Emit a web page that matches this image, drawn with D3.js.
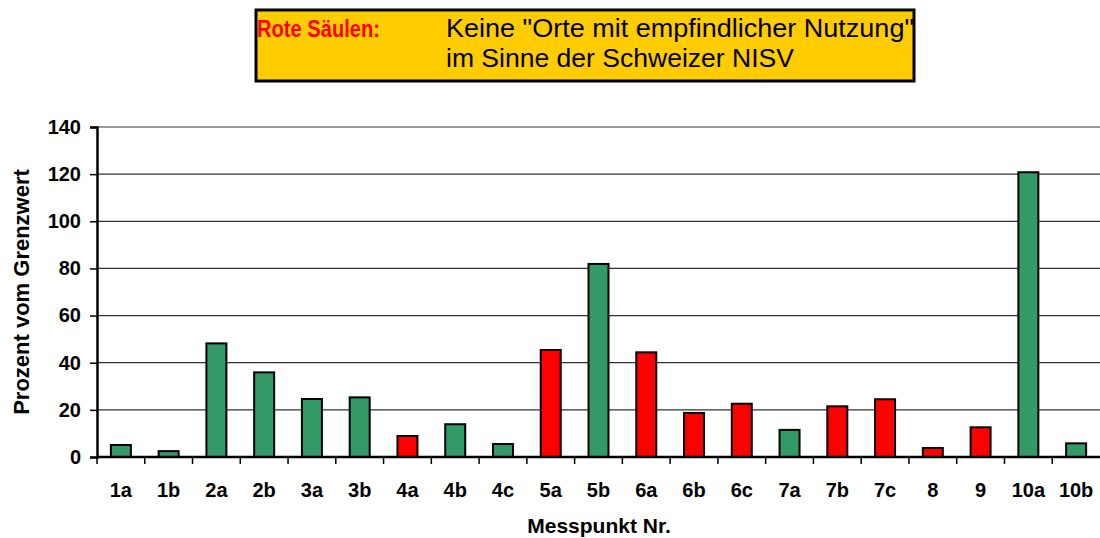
<!DOCTYPE html>
<html>
<head>
<meta charset="utf-8">
<script src="https://cdn.jsdelivr.net/npm/d3@7"></script>
<style>
  body { margin: 0; background: #fff; }
  text { font-family: "Liberation Sans", Arial, sans-serif; }
</style>
</head>
<body>
<div class="chart"></div>
<script>
const categories = ['1a', '1b', '2a', '2b', '3a', '3b', '4a', '4b', '4c', '5a', '5b',
  '6a', '6b', '6c', '7a', '7b', '7c', '8', '9', '10a', '10b'];
const values = [5.1, 2.5, 48.2, 35.9, 24.6, 25.3, 8.9, 13.9, 5.5, 45.4, 81.9,
  44.4, 18.7, 22.6, 11.5, 21.5, 24.5, 3.8, 12.6, 120.8, 5.8];
// true = rote Säule
const redBars = [false, false, false, false, false, false, true, false, false, true, false,
  true, true, true, false, true, true, true, true, false, false];
const yTicks = [0, 20, 40, 60, 80, 100, 120, 140];

const width = 1100;
const height = 538;
const margin = { top: 127, right: 0, bottom: 81, left: 97 };
const innerW = width - margin.left - margin.right;
const innerH = height - margin.top - margin.bottom;

const svg = d3.select('.chart')
  .append('svg')
  .attr('width', width)
  .attr('height', height);

// legend box
const legend = svg.append('g');
legend.append('rect')
  .attr('x', 256).attr('y', 10)
  .attr('width', 658).attr('height', 71)
  .attr('fill', '#ffcc00')
  .attr('stroke', '#000')
  .attr('stroke-width', 3);
legend.append('text')
  .attr('x', 257).attr('y', 37)
  .attr('fill', '#ff0000')
  .attr('font-weight', 'bold')
  .attr('font-size', '24px')
  .attr('textLength', 123)
  .attr('lengthAdjust', 'spacingAndGlyphs')
  .text('Rote Säulen:');
legend.append('text')
  .attr('x', 446).attr('y', 37)
  .attr('font-size', '25px')
  .attr('textLength', 468)
  .attr('lengthAdjust', 'spacingAndGlyphs')
  .text('Keine "Orte mit empfindlicher Nutzung"');
legend.append('text')
  .attr('x', 446).attr('y', 67)
  .attr('font-size', '25px')
  .attr('textLength', 348)
  .attr('lengthAdjust', 'spacingAndGlyphs')
  .text('im Sinne der Schweizer NISV');

const group = svg.append('g')
  .attr('transform', `translate(${margin.left},${margin.top})`);

const xScale = d3.scaleBand().domain(categories).range([0, innerW]).padding(0);
const yScale = d3.scaleLinear().domain([0, 140]).range([innerH, 0]);

// gridlines
group.append('g')
  .selectAll('line')
  .data(yTicks.filter((d) => d > 0))
  .join('line')
  .attr('x1', 0)
  .attr('x2', innerW)
  .attr('y1', (d) => yScale(d))
  .attr('y2', (d) => yScale(d))
  .attr('stroke', '#333')
  .attr('stroke-width', 1.2);

// bars
const barW = 20;
group.append('g')
  .selectAll('rect')
  .data(categories)
  .join('rect')
  .attr('x', (d) => xScale(d) + xScale.bandwidth() / 2 - barW / 2)
  .attr('y', (d, i) => yScale(values[i]))
  .attr('width', barW)
  .attr('height', (d, i) => innerH - yScale(values[i]))
  .attr('fill', (d, i) => (redBars[i] ? '#ff0000' : '#339966'))
  .attr('stroke', '#000')
  .attr('stroke-width', 2);

// y axis
const yAxis = d3.axisLeft(yScale).tickValues(yTicks).tickSize(7).tickPadding(9);
const yG = group.append('g').call(yAxis);
yG.select('.domain').attr('stroke-width', 2.5);
yG.selectAll('.tick line').attr('stroke-width', 1.5);
yG.selectAll('.tick text')
  .attr('font-size', '20px')
  .attr('font-weight', 'bold')
  .attr('font-family', '"Liberation Sans", Arial, sans-serif')
  .attr('fill', '#000');

// x axis: ticks at band boundaries
const xG = group.append('g').attr('transform', `translate(0,${innerH})`);
xG.append('line')
  .attr('x1', 0).attr('x2', innerW)
  .attr('stroke', '#000').attr('stroke-width', 2.5);
xG.selectAll('.xtick')
  .data(categories)
  .join('line')
  .attr('class', 'xtick')
  .attr('x1', (d) => xScale(d))
  .attr('x2', (d) => xScale(d))
  .attr('y1', 0).attr('y2', 7)
  .attr('stroke', '#000').attr('stroke-width', 1.5);
xG.selectAll('.xlabel')
  .data(categories)
  .join('text')
  .attr('class', 'xlabel')
  .attr('x', (d) => xScale(d) + xScale.bandwidth() / 2)
  .attr('y', 40)
  .attr('text-anchor', 'middle')
  .attr('font-size', '20px')
  .attr('font-weight', 'bold')
  .text((d) => d);

// axis titles
svg.append('text')
  .attr('transform', 'translate(29,292) rotate(-90)')
  .attr('text-anchor', 'middle')
  .attr('font-size', '22px')
  .attr('font-weight', 'bold')
  .text('Prozent vom Grenzwert');

svg.append('text')
  .attr('x', 599).attr('y', 533)
  .attr('text-anchor', 'middle')
  .attr('font-size', '21px')
  .attr('font-weight', 'bold')
  .text('Messpunkt Nr.');
</script>
</body>
</html>
